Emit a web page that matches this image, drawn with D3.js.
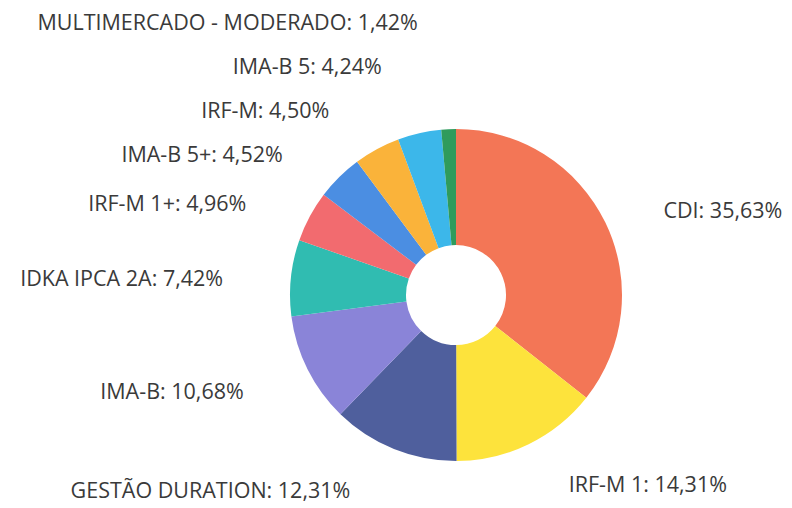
<!DOCTYPE html>
<html>
<head>
<meta charset="utf-8">
<script src="https://cdn.jsdelivr.net/npm/d3@7"></script>
<style>
  html, body { margin: 0; padding: 0; background: #fff; }
  svg text { font-family: "Open Sans", sans-serif; }
</style>
</head>
<body>
<svg id="chart"></svg>
<script>
const labels = [
  "CDI",
  "IRF-M 1",
  "GESTÃO DURATION",
  "IMA-B",
  "IDKA IPCA 2A",
  "IRF-M 1+",
  "IMA-B 5+",
  "IRF-M",
  "IMA-B 5",
  "MULTIMERCADO - MODERADO"
];
const values = [35.63, 14.31, 12.31, 10.68, 7.42, 4.96, 4.52, 4.50, 4.24, 1.42];
const colors = [
  "#f37656", "#fde33c", "#4f5f9d", "#8a84d8", "#30bcb1",
  "#f26b6f", "#4b8ee2", "#fab33a", "#3cb7ea", "#2f9b5c"
];

const w = 792;
const h = 508;
const cx = 456;
const cy = 295;
const outerR = 166;
const innerR = 50;
const labelR = 205;
const labelDy = 5;
const gap = 44;

const svg = d3.select("#chart").attr("width", w).attr("height", h);
const g = svg.append("g").attr("transform", `translate(${cx}, ${cy})`);

const data = labels.map((l, i) => ({ label: l, value: values[i], color: colors[i] }));

const pie = d3.pie().value((d) => d.value).sort(null);
const arc = d3.arc().innerRadius(innerR).outerRadius(outerR);
const arcs = pie(data);

g.selectAll("path")
  .data(arcs)
  .enter()
  .append("path")
  .attr("d", arc)
  .attr("fill", (d) => d.data.color);

// label positions: from the slice mid angle, then pushed apart vertically
const fmt = (v) => v.toFixed(2).replace(".", ",") + "%";
const items = arcs.map((d) => {
  const a = (d.startAngle + d.endAngle) / 2;
  const left = Math.sin(a) < 0;
  return {
    text: d.data.label + ": " + fmt(d.data.value),
    left: left,
    x: labelR * Math.sin(a) + (left ? -29 : 23),
    y: -labelR * Math.cos(a) + labelDy
  };
});

[true, false].forEach((side) => {
  const s = items.filter((d) => d.left === side).sort((a, b) => a.y - b.y);
  for (let i = s.length - 2; i >= 0; i--) {
    s[i].y = Math.min(s[i].y, s[i + 1].y - gap);
  }
});

g.selectAll("text.label")
  .data(items)
  .enter()
  .append("text")
  .attr("class", "label")
  .attr("x", (d) => d.x)
  .attr("y", (d) => d.y)
  .attr("dy", "0.35em")
  .attr("text-anchor", (d) => (d.left ? "end" : "start"))
  .attr("font-size", 21.5)
  .attr("fill", "#3a3a3a")
  .text((d) => d.text);
</script>
</body>
</html>
